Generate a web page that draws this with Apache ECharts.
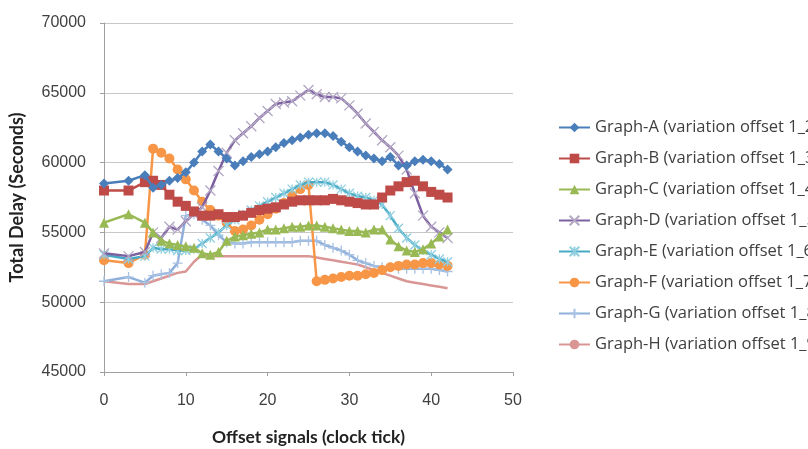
<!DOCTYPE html>
<html><head><meta charset="utf-8">
<script src="https://cdn.jsdelivr.net/npm/echarts@6/dist/echarts.min.js"></script>
<style>html,body{margin:0;padding:0;background:#fff;}#c{width:808px;height:449px;}</style>
</head><body><div id="c"></div>
<script>
const xs = [0,3,5,6,7,8,9,10,11,12,13,14,15,16,17,18,19,20,21,22,23,24,25,26,27,28,29,30,31,32,33,34,35,36,37,38,39,40,41,42];
const graphA = [58500,58700,59100,58200,58400,58700,58900,59300,60000,60800,61300,60800,60300,59800,60100,60400,60600,60800,61100,61400,61600,61800,62000,62100,62100,61900,61500,61100,60800,60500,60300,60100,60400,59800,59800,60100,60200,60100,59900,59500];
const graphB = [58000,58000,58600,58700,58400,57700,57200,56900,56500,56200,56200,56300,56100,56100,56200,56400,56600,56700,56800,57000,57200,57300,57300,57300,57300,57400,57300,57200,57100,57000,57000,57500,58000,58300,58600,58700,58300,57900,57700,57500];
const graphC = [55700,56300,55700,55000,54400,54200,54100,54000,53900,53500,53400,53600,54400,54700,54800,54900,55000,55200,55200,55300,55400,55400,55500,55500,55400,55300,55200,55100,55100,55000,55200,55200,54500,54000,53700,53600,53800,54200,54700,55200];
const graphD = [53500,53300,53600,55000,54600,55400,55200,55800,56300,56800,58000,59400,60700,61600,62100,62600,63200,63700,64200,64300,64400,64800,65200,64900,64700,64700,64600,64100,63500,62800,62200,61600,61100,60500,59500,57800,56200,55400,55000,54600];
const graphE = [53400,53100,53300,53900,53800,53800,53700,53700,53800,54200,54600,55000,55500,55900,56300,56600,56900,57200,57500,57800,58100,58400,58600,58600,58600,58400,58100,57800,57600,57500,57300,57000,56200,55300,54600,54100,53700,53400,53100,52900];
const graphF = [53000,52800,53400,61000,60700,60300,59500,58800,58000,57200,56600,56200,55700,55100,55200,55500,55900,56300,56700,57100,57600,58100,58400,51500,51600,51700,51800,51900,51900,52000,52100,52300,52500,52600,52700,52700,52800,52800,52700,52600];
const graphG = [51500,51800,51400,51900,52000,52100,52800,56200,56300,55900,55500,54800,54300,54200,54200,54300,54300,54300,54300,54300,54300,54400,54400,54400,54100,53900,53700,53400,53000,52800,52600,52500,52500,52400,52400,52400,52400,52400,52300,52200];
const graphH = [51500,51300,51300,51500,51700,51900,52100,52200,52900,53400,53300,53300,53300,53300,53300,53300,53300,53300,53300,53300,53300,53300,53300,53200,53100,53000,52900,52800,52700,52500,52300,52100,51900,51700,51500,51400,51300,51200,51100,51000];
const seriesNames = ['Graph-A (variation offset 1_2)','Graph-B (variation offset 1_3)','Graph-C (variation offset 1_4)','Graph-D (variation offset 1_5)','Graph-E (variation offset 1_6)','Graph-F (variation offset 1_7)','Graph-G (variation offset 1_8)','Graph-H (variation offset 1_9)'];
const yTicks = [45000,50000,55000,60000,65000,70000];
const xTicks = [0,10,20,30,40,50];

const allData = [graphA,graphB,graphC,graphD,graphE,graphF,graphG,graphH];
const colors = ['#4a7ebb','#be4b48','#98b954','#7d60a0','#46aac5','#f79646','#8fb0da','#d99694'];
const markerColors = ['#4a7ebb','#be4b48','#98b954','#b3a7c4','#8fcfe0','#f79646','#a9c2e3','#d99694'];
const symbols = ['diamond','rect','triangle',
  'path://M0,0L10,10M10,0L0,10',
  'path://M0,0L10,10M10,0L0,10M5,0L5,10',
  'circle',
  'path://M5,0L5,10M0,5L10,5',
  'none'];
const sizes = [10,10,10,10,9,10,10,0];
const pathSym = [false,false,false,true,true,false,true,false];

const series = allData.map((d,i)=>({
  name: seriesNames[i],
  type:'line',
  data: xs.map((x,j)=>[x,d[j]]),
  symbol: symbols[i],
  symbolSize: sizes[i],
  showSymbol: symbols[i]!=='none',
  lineStyle:{color:colors[i],width:2.5},
  itemStyle: pathSym[i] ? {color:'rgba(0,0,0,0)',borderColor:markerColors[i],borderWidth:1.3} : {color:markerColors[i],borderWidth:0},
  emphasis:{disabled:true},
  animation:false,
  z: 10-i
}));

const chart = echarts.init(document.getElementById('c'));
chart.setOption({
  animation:false,
  grid:{left:104,right:295,top:23,bottom:77,containLabel:false,outerBoundsMode:'none'},
  legend:{
    orient:'vertical', left:553, top:113, itemGap:12, itemWidth:31, itemHeight:12,
    textStyle:{fontFamily:'Open Sans',fontSize:16.5,lineHeight:19,color:'#404040',width:400,overflow:'none'},
    data: seriesNames
  },
  xAxis:{
    type:'value', min:0, max:50, interval:10,
    name:'Offset signals (clock tick)', nameLocation:'middle', nameGap:56,
    nameTextStyle:{fontFamily:'Lato',fontWeight:'bold',fontSize:17.5,color:'#222'},
    axisLine:{show:true,lineStyle:{color:'#a0a0a0'}},
    axisTick:{show:true,length:4,lineStyle:{color:'#a0a0a0'}},
    axisLabel:{fontFamily:'Liberation Sans',fontSize:16,color:'#404040',margin:21},
    splitLine:{show:false}
  },
  yAxis:{
    type:'value', min:45000, max:70000, interval:5000,
    name:'Total Delay (Seconds)', nameLocation:'middle', nameGap:78, nameRotate:90,
    nameTextStyle:{fontFamily:'Lato',fontWeight:'bold',fontSize:18,color:'#222'},
    axisLine:{show:true,lineStyle:{color:'#a0a0a0'}},
    axisTick:{show:true,length:4,lineStyle:{color:'#a0a0a0'}},
    axisLabel:{fontFamily:'Liberation Sans',fontSize:16,color:'#404040',margin:18,formatter:v=>String(v)},
    splitLine:{show:true,lineStyle:{color:'#c8c8c8',width:1}}
  },
  series: series
});
</script>
</body></html>
